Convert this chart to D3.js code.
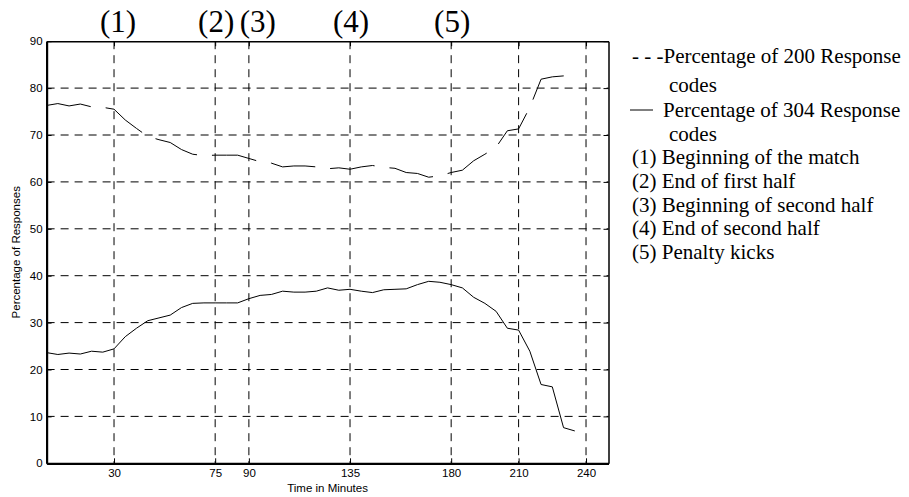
<!DOCTYPE html>
<html>
<head>
<meta charset="utf-8">
<script src="https://d3js.org/d3.v7.min.js"></script>
<style>
  body { margin: 0; background: #fff; }
  svg { display: block; }
  .tick text { font-family: 'Liberation Sans', Arial, sans-serif; font-size: 11.5px; fill: #000; }
  .label { font-family: 'Liberation Sans', Arial, sans-serif; font-size: 11.5px; fill: #000; }
  .serif { font-family: 'Liberation Serif', 'Times New Roman', serif; fill: #000; }
</style>
</head>
<body>
<svg></svg>
<script>
// time in minutes, one sample every five minutes
var minutes = [0, 5, 10, 15, 20, 25, 30, 35, 40, 45, 50, 55, 60, 65, 70, 75, 80, 85, 90, 95,
               100, 105, 110, 115, 120, 125, 130, 135, 140, 145, 150, 155, 160, 165, 170, 175,
               180, 185, 190, 195, 200, 205, 210, 215, 220, 225, 230, 235]

var pct200 = [76.3, 76.7, 76.2, 76.6, 76.0, 75.9, 75.5, 73.2, 71.4, 69.7, 69.0, 68.4, 66.9, 65.9,
              65.6, 65.7, 65.7, 65.7, 65.0, 64.3, 64.0, 63.2, 63.4, 63.4, 63.2, 62.8, 63.0, 62.7,
              63.2, 63.5, 63.1, 62.9, 62.0, 61.8, 61.0, 61.3, 62.0, 62.5, 64.5, 65.9, 67.4, 70.9,
              71.3, 75.9, 81.9, 82.4, 82.6, 82.8]

var pct304 = [23.6, 23.2, 23.5, 23.3, 23.9, 23.7, 24.4, 27.0, 28.8, 30.4, 31.0, 31.6, 33.2, 34.1,
              34.2, 34.2, 34.2, 34.2, 35.1, 35.8, 36.0, 36.7, 36.5, 36.5, 36.7, 37.4, 36.9, 37.1,
              36.7, 36.4, 37.0, 37.1, 37.2, 38.1, 38.8, 38.6, 38.1, 37.4, 35.4, 34.1, 32.4, 28.8,
              28.4, 23.9, 16.8, 16.3, 7.6, 6.9]

var xTicks = [30, 75, 90, 135, 180, 210, 240]
var yTicks = [0, 10, 20, 30, 40, 50, 60, 70, 80, 90]

var eventMinutes = [30, 75, 90, 135, 180]
var eventLabels = ['(1)', '(2)', '(3)', '(4)', '(5)']

var legendLines = ['- - -Percentage of 200 Response', 'codes',
                   'Percentage of 304 Response', 'codes',
                   '(1) Beginning of the match', '(2) End of first half',
                   '(3) Beginning of second half', '(4) End of second half',
                   '(5) Penalty kicks']

document.addEventListener('DOMContentLoaded', () => {
    var width = 909
    var height = 497
    var left = 46.6, right = 608.5, top = 41.2, bottom = 463.3

    var svg = d3.select('svg')
        .attr('width', width)
        .attr('height', height)

    var xScale = d3.scaleLinear().domain([0, 250]).range([left, right])
    var yScale = d3.scaleLinear().domain([0, 90]).range([bottom, top])

    // dashed grid
    svg.append('g')
        .selectAll('line')
        .data(yTicks.filter(d => d > 0 && d < 90))
        .enter()
        .append('line')
            .attr('x1', left).attr('x2', right)
            .attr('y1', d => yScale(d)).attr('y2', d => yScale(d))
            .attr('stroke', '#000')
            .attr('stroke-dasharray', '8,6')

    svg.append('g')
        .selectAll('line')
        .data(xTicks)
        .enter()
        .append('line')
            .attr('x1', d => xScale(d)).attr('x2', d => xScale(d))
            .attr('y1', top).attr('y2', bottom)
            .attr('stroke', '#000')
            .attr('stroke-dasharray', '8,6')

    // axes
    var xAxis = d3.axisBottom(xScale).tickValues(xTicks).tickSize(-5).tickSizeOuter(0).tickPadding(6)
    var yAxis = d3.axisLeft(yScale).tickValues(yTicks).tickSize(-5).tickSizeOuter(0).tickPadding(4)

    var gx = svg.append('g')
        .attr('transform', 'translate(0,' + bottom + ')')
        .call(xAxis)
    var gy = svg.append('g')
        .attr('transform', 'translate(' + left + ',0)')
        .call(yAxis)

    svg.append('g')
        .attr('transform', 'translate(' + right + ',0)')
        .call(d3.axisRight(yScale).tickValues(yTicks).tickSize(-5).tickSizeOuter(0).tickFormat(''))
    svg.append('g')
        .attr('transform', 'translate(0,' + top + ')')
        .call(d3.axisTop(xScale).tickValues(xTicks).tickSize(-5).tickSizeOuter(0).tickFormat(''))

    svg.selectAll('.domain').attr('stroke', '#000').attr('stroke-width', 1.5)
    gx.select('.domain').attr('stroke-width', 2.2)
    gy.select('.domain').attr('stroke-width', 2.2)
    svg.selectAll('.tick line').attr('stroke', '#000')

    // series
    var line = (vals) => d3.line()
        .x((d, i) => xScale(minutes[i]))
        .y(d => yScale(d))(vals)

    svg.append('path')
        .attr('d', line(pct200))
        .attr('fill', 'none')
        .attr('stroke', '#000')
        .attr('stroke-width', 1)
        .attr('stroke-dasharray', '45,15')

    svg.append('path')
        .attr('d', line(pct304))
        .attr('fill', 'none')
        .attr('stroke', '#000')
        .attr('stroke-width', 1)

    // event markers above the plot
    svg.append('g')
        .selectAll('text')
        .data(eventLabels)
        .enter()
        .append('text')
            .classed('serif', true)
            .text(d => d)
            .attr('text-anchor', 'middle')
            .attr('x', (d, i) => xScale(eventMinutes[i]) + (i == 0 ? 4 : i == 2 ? 9 : 1))
            .attr('y', 32)
            .style('font-size', '31px')

    // axis labels
    svg.append('text')
        .classed('label', true)
        .text('Time in Minutes')
        .attr('text-anchor', 'middle')
        .attr('x', (left + right) / 2)
        .attr('y', 492)

    svg.append('text')
        .classed('label', true)
        .text('Percentage of Responses')
        .attr('text-anchor', 'middle')
        .attr('transform', 'translate(20,' + (top + bottom) / 2 + ') rotate(-90)')

    // legend
    var legendY = [63, 92, 116.5, 140.5, 164, 188, 211.5, 235, 258.5]
    var legendX = [632, 669, 663, 669, 632, 632, 632, 632, 632]
    svg.append('g')
        .selectAll('text')
        .data(legendLines)
        .enter()
        .append('text')
            .classed('serif', true)
            .text(d => d)
            .attr('x', (d, i) => legendX[i])
            .attr('y', (d, i) => legendY[i])
            .style('font-size', '21px')

    svg.append('line')
        .attr('x1', 630).attr('x2', 653)
        .attr('y1', 110).attr('y2', 110)
        .attr('stroke', '#000')
        .attr('stroke-width', 1)
})
</script>
</body>
</html>
